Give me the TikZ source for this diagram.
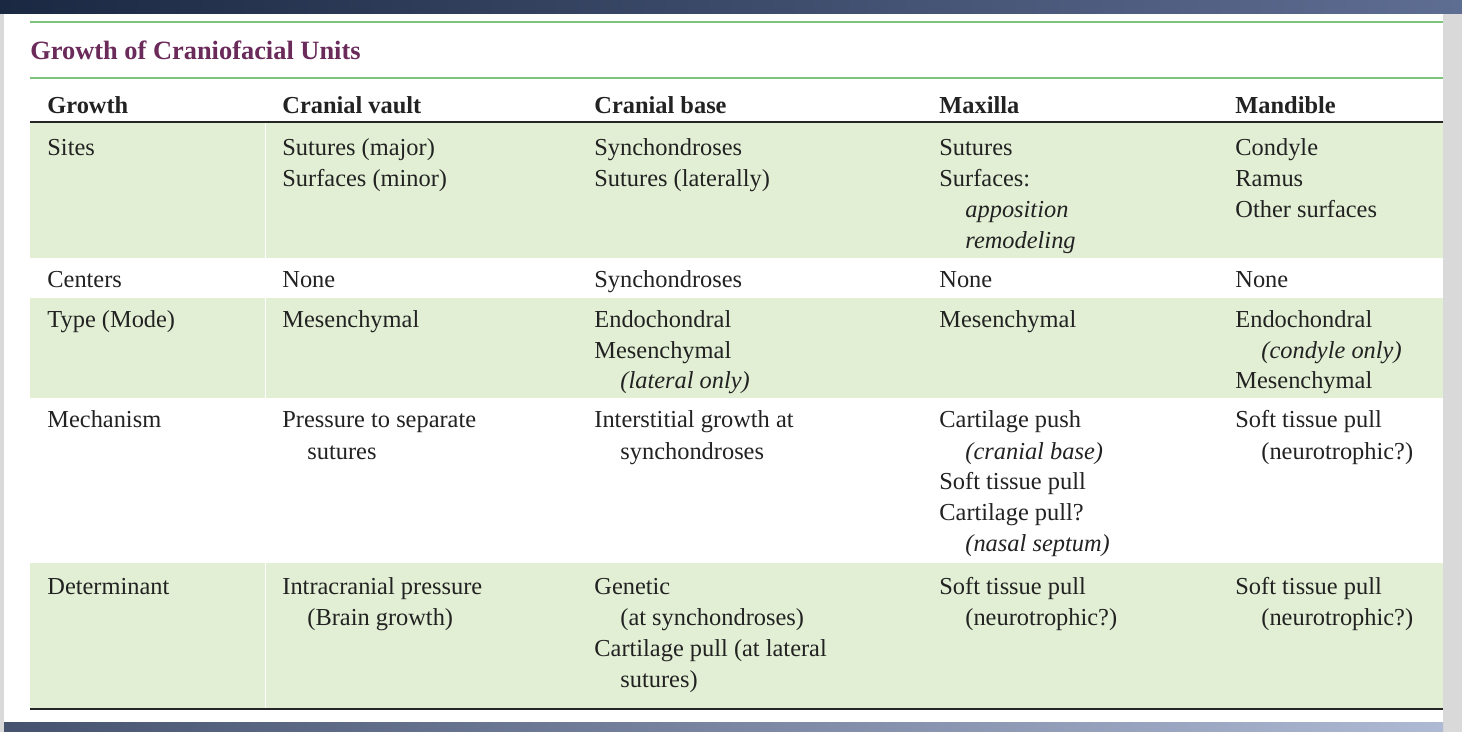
\documentclass[tikz,border=0pt]{standalone}
\usepackage{fontspec}
\setmainfont{Liberation Serif}
\definecolor{navyA}{HTML}{1B2842}
\definecolor{navyB}{HTML}{5E6D92}
\definecolor{botA}{HTML}{46536E}
\definecolor{botB}{HTML}{AEB9D4}
\definecolor{rowgreen}{HTML}{E2EFD4}
\definecolor{rulegreen}{HTML}{7DC37A}
\definecolor{titlepurple}{HTML}{6A2A5A}
\definecolor{txt}{HTML}{222222}
\definecolor{sidegray}{HTML}{D9D9D9}
\newcommand{\cl}[4]{\node[cell] (#1) at (#2,#3+9) {#4};}
\begin{document}
\begin{tikzpicture}[x=0.5pt,y=-0.5pt,
  cell/.style={anchor=base west,inner sep=0pt,font=\fontsize{12.2pt}{14pt}\selectfont,text=txt},
  head/.style={cell,font=\fontsize{12.2pt}{14pt}\selectfont\bfseries}]
\useasboundingbox (0,0) rectangle (1462,732);
% frame
\fill[sidegray] (0,0) rectangle (1462,732);
\fill[white] (4,14) rectangle (1443,722);
\shade[left color=navyA,right color=navyB] (0,0) rectangle (1462,14);
\shade[left color=botA,right color=botB] (4,722) rectangle (1443,732);
% title
\draw[rulegreen,line width=1.2pt] (30,22) -- (1443,22);
\node[anchor=base west,inner sep=0pt,font=\fontsize{13.2pt}{15pt}\selectfont\bfseries,text=titlepurple] (title) at (30,60) {Growth of Craniofacial Units};
\draw[rulegreen,line width=1.2pt] (30,78) -- (1443,78);
% row fills
\fill[rowgreen] (30,123) rectangle (1443,258);
\fill[rowgreen] (30,298) rectangle (1443,398);
\fill[rowgreen] (30,563) rectangle (1443,709);
\draw[white,line width=0.3pt] (265,123) -- (265,258) (265,298) -- (265,398) (265,563) -- (265,709);
\draw[black!85,line width=0.9pt] (30,122) -- (1443,122);
\draw[black!85,line width=1.4pt] (30,709) -- (1443,709);
% headers
\node[head] (h1) at (47,114) {Growth};
\node[head] (h2) at (282,114) {Cranial vault};
\node[head] (h3) at (594,114) {Cranial base};
\node[head] (h4) at (939,114) {Maxilla};
\node[head] (h5) at (1235,114) {Mandible};
% Sites
\cl{s1}{47}{147}{Sites}
\cl{s2a}{282}{147}{Sutures (major)}
\cl{s2b}{282}{178}{Surfaces (minor)}
\cl{s3a}{594}{147}{Synchondroses}
\cl{s3b}{594}{178}{Sutures (laterally)}
\cl{s4a}{939}{147}{Sutures}
\cl{s4b}{939}{178}{Surfaces:}
\cl{s4c}{965}{209}{\itshape apposition}
\cl{s4d}{965}{240}{\itshape remodeling}
\cl{s5a}{1235}{147}{Condyle}
\cl{s5b}{1235}{178}{Ramus}
\cl{s5c}{1235}{209}{Other surfaces}
% Centers
\cl{c1}{47}{279}{Centers}
\cl{c2}{282}{279}{None}
\cl{c3}{594}{279}{Synchondroses}
\cl{c4}{939}{279}{None}
\cl{c5}{1235}{279}{None}
% Type
\cl{t1}{47}{319}{Type (Mode)}
\cl{t2}{282}{319}{Mesenchymal}
\cl{t3a}{594}{319}{Endochondral}
\cl{t3b}{594}{350}{Mesenchymal}
\cl{t3c}{620}{380}{\itshape (lateral only)}
\cl{t4}{939}{319}{Mesenchymal}
\cl{t5a}{1235}{319}{Endochondral}
\cl{t5b}{1261}{350}{\itshape (condyle only)}
\cl{t5c}{1235}{380}{Mesenchymal}
% Mechanism
\cl{m1}{47}{419}{Mechanism}
\cl{m2a}{282}{419}{Pressure to separate}
\cl{m2b}{307}{450}{sutures}
\cl{m3a}{594}{419}{Interstitial growth at}
\cl{m3b}{620}{450}{synchondroses}
\cl{m4a}{939}{419}{Cartilage push}
\cl{m4b}{965}{450}{\itshape (cranial base)}
\cl{m4c}{939}{481}{Soft tissue pull}
\cl{m4d}{939}{512}{Cartilage pull?}
\cl{m4e}{965}{543}{\itshape (nasal septum)}
\cl{m5a}{1235}{419}{Soft tissue pull}
\cl{m5b}{1261}{450}{(neurotrophic?)}
% Determinant
\cl{d1}{47}{585}{Determinant}
\cl{d2a}{282}{585}{Intracranial pressure}
\cl{d2b}{307}{616}{(Brain growth)}
\cl{d3a}{594}{585}{Genetic}
\cl{d3b}{620}{616}{(at synchondroses)}
\cl{d3c}{594}{647}{Cartilage pull (at lateral}
\cl{d3d}{620}{678}{sutures)}
\cl{d4a}{939}{585}{Soft tissue pull}
\cl{d4b}{965}{616}{(neurotrophic?)}
\cl{d5a}{1235}{585}{Soft tissue pull}
\cl{d5b}{1261}{616}{(neurotrophic?)}
\end{tikzpicture}
\end{document}
